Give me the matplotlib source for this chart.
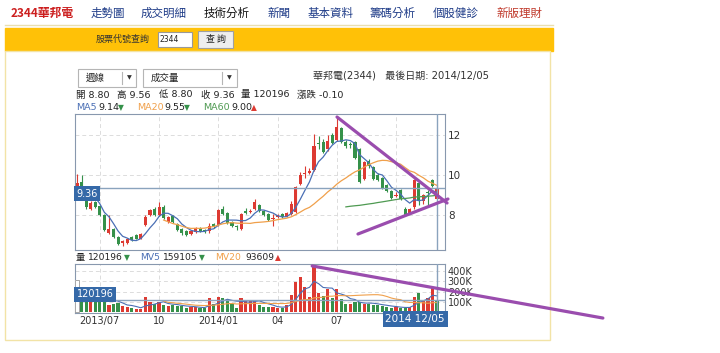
import numpy as np
import pandas as pd
import matplotlib
matplotlib.use("Agg")
import matplotlib.pyplot as plt
import matplotlib.transforms as mtransforms
from matplotlib.patches import Rectangle

plt.rcParams['font.family'] = ['DejaVu Sans', 'Noto Sans CJK TC']
CJK = ['Noto Sans CJK TC', 'DejaVu Sans']

# weekly candles 2013/05/31 .. 2014/12/05
dates = pd.date_range(end="2014-12-05", periods=80, freq="W-FRI")
opens = [9.40, 9.65, 8.68, 8.32, 8.65, 8.45, 8.00, 7.10, 7.30, 6.90,
         6.60, 6.62, 6.90, 7.00, 6.80, 7.50, 8.00, 8.32, 8.00, 8.40,
         7.65, 7.95, 7.55, 7.30, 7.20, 7.05, 7.15, 7.35, 7.25, 7.20,
         7.55, 7.48, 8.30, 8.10, 7.65, 7.45, 7.32, 8.18, 8.15, 8.30,
         8.50, 8.20, 8.05, 7.78, 7.92, 8.05, 7.92, 8.05, 8.15, 9.55,
         10.05, 10.10, 10.25, 11.60, 11.65, 11.30, 12.00, 11.75, 12.35, 11.65,
         11.55, 11.65, 11.30, 9.80, 10.70, 10.40, 10.00, 9.85, 9.50, 9.20,
         8.95, 9.25, 8.30, 8.10, 8.40, 9.60, 8.70, 9.15, 9.75, 8.80]
highs = [10.05, 9.98, 8.75, 8.70, 8.72, 8.50, 8.05, 8.00, 7.35, 6.95,
         6.75, 6.85, 6.95, 7.05, 7.10, 8.00, 8.30, 8.40, 8.65, 8.50,
         7.95, 8.00, 7.60, 7.35, 7.25, 7.25, 7.40, 7.40, 7.30, 7.60,
         7.60, 8.30, 8.45, 8.15, 7.70, 7.50, 8.10, 8.35, 8.30, 8.80,
         8.55, 8.25, 8.10, 8.05, 8.05, 8.10, 8.15, 8.70, 9.45, 10.15,
         10.45, 10.35, 12.05, 11.95, 11.80, 12.00, 12.10, 12.90, 12.40, 11.75,
         11.65, 11.70, 11.35, 10.70, 10.80, 10.45, 10.10, 9.90, 9.55, 9.25,
         9.15, 9.30, 8.40, 8.35, 9.80, 9.65, 9.05, 9.25, 9.80, 9.56]
lows = [9.35, 9.30, 8.30, 8.25, 8.35, 7.95, 7.20, 7.05, 6.85, 6.50,
        6.45, 6.55, 6.70, 6.78, 6.78, 7.45, 7.95, 7.95, 7.95, 7.80,
        7.60, 7.60, 7.20, 7.02, 6.95, 7.00, 7.10, 7.15, 7.10, 7.10,
        7.35, 7.45, 8.00, 7.55, 7.40, 7.25, 7.25, 8.05, 8.10, 8.25,
        8.15, 7.95, 7.70, 7.45, 7.85, 7.85, 7.88, 8.00, 8.10, 9.50,
        9.85, 10.05, 10.20, 11.30, 11.10, 11.20, 11.55, 11.70, 11.60, 11.35,
        11.35, 10.80, 9.60, 9.75, 10.35, 9.75, 9.70, 9.30, 9.15, 8.80,
        8.90, 8.75, 7.95, 8.05, 8.30, 8.50, 8.55, 8.50, 9.40, 8.80]
closes = [9.58, 9.42, 8.38, 8.62, 8.40, 8.00, 7.25, 7.30, 6.90, 6.55,
          6.68, 6.80, 6.75, 6.82, 7.05, 7.92, 8.25, 8.00, 8.42, 7.85,
          7.90, 7.65, 7.25, 7.08, 7.00, 7.20, 7.35, 7.20, 7.15, 7.45,
          7.40, 8.23, 8.05, 7.60, 7.45, 7.38, 8.07, 8.12, 8.22, 8.65,
          8.22, 8.02, 7.75, 7.85, 7.98, 7.92, 8.08, 8.55, 9.40, 10.00,
          10.12, 10.20, 11.45, 11.55, 11.15, 11.70, 11.60, 12.40, 11.65, 11.45,
          11.50, 10.85, 9.65, 10.65, 10.45, 9.80, 9.75, 9.35, 9.20, 8.85,
          9.02, 8.80, 8.00, 8.30, 9.73, 8.75, 9.00, 9.10, 9.46, 9.36]
volumes_k = [313, 150, 160, 140, 150, 145, 155, 70, 80, 90,
             60, 55, 45, 30, 28, 150, 100, 85, 100, 75,
             65, 70, 65, 60, 45, 50, 48, 40, 45, 138,
             80, 145, 140, 130, 85, 40, 135, 120, 110, 120,
             70, 55, 55, 48, 45, 45, 70, 168, 297, 346,
             250, 150, 460, 185, 160, 228, 140, 230, 125, 85,
             80, 100, 100, 85, 80, 75, 70, 60, 55, 45,
             50, 40, 45, 55, 150, 190, 119, 135, 232, 120.196]

# hand drawn trend lines (index, value)
trend_hi_x, trend_hi_y = [57.05, 81.2], [12.9, 8.6]
trend_lo_x, trend_lo_y = [61.65, 81.4], [7.05, 8.8]
trend_vol_x, trend_vol_y = [51.6, 115.4], [450000, -56000]

nav_items = ["走勢圖", "成交明細", "技術分析", "新聞", "基本資料", "籌碼分析", "個股健診", "新版理財"]
nav_x = [91, 141, 204, 267, 308, 370, 433, 496]
nav_colors = ['#1f3c88', '#1f3c88', '#111111', '#1f3c88', '#1f3c88', '#1f3c88', '#1f3c88', '#c0392b']

RED = '#dd3a32'
GREEN = '#35914a'
C_MA5 = '#4a6fb5'
C_MA20 = '#f0a04b'
C_MA60 = '#4f9a52'
FRAME = '#8898ae'
CROSS = '#8aa3bd'
FS = 6.6

o = np.array(opens); h = np.array(highs); l = np.array(lows); c = np.array(closes)
vol = np.array(volumes_k) * 1000
idx = np.arange(len(c))
cs = pd.Series(c)
vs = pd.Series(vol)

fig = plt.figure(figsize=(7.2, 3.53), dpi=100)
W, H = 720, 353

bg = fig.add_axes([0, 0, 1, 1])
bg.set_xlim(0, W); bg.set_ylim(H, 0); bg.axis('off')

# nav bar
bg.text(11, 13, "2344華邦電", color='#cc1f1f', fontsize=8.5, fontweight='bold', va='center', family=CJK)
for t, x, col in zip(nav_items, nav_x, nav_colors):
    bg.text(x, 13, t, color=col, fontsize=8.3, va='center', family=CJK)
bg.plot([5, 553], [25, 25], color='#eadfae', lw=1)
bg.add_patch(Rectangle((5, 28), 548, 23, color='#ffc107'))
bg.text(96, 39.5, "股票代號查詢", fontsize=6.5, va='center', color='#333333', family=CJK)
bg.add_patch(Rectangle((158, 32), 34, 15, fc='white', ec='#999999', lw=0.8))
bg.text(160, 39.5, "2344", fontsize=5.5, va='center', color='#222222')
bg.add_patch(Rectangle((198, 31), 35, 17, fc='#eeeeee', ec='#a0a0a0', lw=0.8))
bg.text(215.5, 39.5, "查 詢", fontsize=6.5, va='center', ha='center', color='#222222', family=CJK)
bg.add_patch(Rectangle((5, 51), 545, 289, fc='white', ec='#f2e3a6', lw=1))

# dropdowns
for x0, x1, sep, label in [(78, 136, 122, "週線"), (143, 237, 222, "成交量")]:
    bg.add_patch(Rectangle((x0, 69), x1 - x0, 18, fc='white', ec='#b5b5b5', lw=0.8))
    bg.plot([sep, sep], [72, 84], color='#b5b5b5', lw=0.8)
    bg.text(x0 + 8, 78, label, fontsize=6.8, va='center', color='#222222', family=CJK)
    bg.text(sep + 7, 78, "▼", fontsize=4.5, va='center', ha='center', color='#333333')

bg.text(313, 75, "華邦電(2344)   最後日期: 2014/12/05", fontsize=7.2, va='center', color='#333333')

# OHLC line
for x, t in [(76, "開 8.80"), (117, "高 9.56"), (159, "低 8.80"), (201, "收 9.36"),
             (241, "量 120196"), (297, "漲跌 -0.10")]:
    bg.text(x, 95, t, fontsize=FS + 0.2, va='center', color='#222222')

# MA legend
for x, t, col in [(76, "MA5", C_MA5), (98, "9.14", '#222222'), (137, "MA20", C_MA20),
                  (164, "9.55", '#222222'), (203, "MA60", C_MA60), (231, "9.00", '#222222')]:
    bg.text(x, 107.5, t, fontsize=FS + 0.2, va='center', color=col)
for x, t, col in [(118, "▼", GREEN), (184, "▼", GREEN), (251, "▲", RED)]:
    bg.text(x, 107.5, t, fontsize=5.5, va='center', color=col)

# volume legend
for x, t, col in [(76, "量", '#222222'), (88, "120196", '#222222'), (140, "MV5", C_MA5),
                  (163, "159105", '#222222'), (215, "MV20", C_MA20), (245, "93609", '#222222')]:
    bg.text(x, 257.5, t, fontsize=FS, va='center', color=col)
for x, t, col in [(124, "▼", GREEN), (199, "▼", GREEN), (275, "▲", RED)]:
    bg.text(x, 257.5, t, fontsize=5.5, va='center', color=col)

# date tick positions: first week of Jan/Apr/Jul/Oct
tick_pos, tick_lab = [], []
for i in range(1, len(dates)):
    if dates[i].month != dates[i - 1].month and dates[i].month in (1, 4, 7, 10):
        tick_pos.append(i)
        if i > len(dates) - 14:
            tick_lab.append("")  # hidden under the last-date box
        elif not tick_lab or dates[i].month == 1:
            tick_lab.append(dates[i].strftime("%Y/%m"))
        else:
            tick_lab.append(dates[i].strftime("%m"))

xlim = (-0.45, 80.75)

# price panel
ax1 = fig.add_axes([75 / W, 1 - 250 / H, 370 / W, 136 / H])
ax1.set_xlim(*xlim); ax1.set_ylim(6.25, 13.05)
up = c >= o
col = np.where(up, RED, GREEN)
ax1.vlines(idx, l, h, colors=col, lw=0.8, zorder=3)
body = np.maximum(np.abs(c - o), 0.03)
ax1.bar(idx, body, bottom=np.minimum(o, c), width=0.68, color=col, lw=0, zorder=4)
ax1.plot(idx, cs.rolling(5).mean(), color=C_MA5, lw=0.9, zorder=5)
ax1.plot(idx, cs.rolling(20).mean(), color=C_MA20, lw=0.9, zorder=5)
ax1.plot(idx, cs.rolling(60).mean(), color=C_MA60, lw=0.9, zorder=5)
ax1.axhline(c[-1], color=CROSS, lw=1, zorder=6)
ax1.axvline(idx[-1], color=CROSS, lw=1, zorder=6)
ax1.set_yticks([8, 10, 12])
ax1.yaxis.tick_right()
ax1.tick_params(axis='y', length=0, pad=2, labelsize=7.5, labelcolor='#333333')
ax1.set_xticks(tick_pos)
ax1.tick_params(axis='x', length=0, labelbottom=False)
ax1.grid(True, ls=(0, (4, 3)), color='#dcdcdc', lw=0.7)
for s in ax1.spines.values():
    s.set_color(FRAME)
blend1 = mtransforms.blended_transform_factory(ax1.transAxes, ax1.transData)
ax1.text(0.004, c[-1] - 0.05, f"{c[-1]:.2f}", transform=blend1, va='top', ha='left',
         color='white', fontsize=7, zorder=8,
         bbox=dict(boxstyle='square,pad=0.25', fc='#3569a8', ec='none'))
ax1.plot(trend_hi_x, trend_hi_y, color='#9a4dae', lw=2.3, clip_on=False, zorder=9,
         solid_capstyle='round')
ax1.plot(trend_lo_x, trend_lo_y, color='#9a4dae', lw=2.3, clip_on=False, zorder=9,
         solid_capstyle='round')

# volume panel
ax2 = fig.add_axes([75 / W, 1 - 313 / H, 370 / W, 49 / H])
ax2.set_xlim(*xlim); ax2.set_ylim(-7000, 469000)
vcol = [RED if k > 0 and c[k] >= c[k - 1] else GREEN for k in idx]
vcol[0] = 'white'
ax2.bar(idx, vol, width=0.7, color=vcol, lw=0, zorder=3)
ax2.bar(idx[:1], vol[:1], width=0.7, color='white', ec='#999999', lw=0.6, zorder=3)
ax2.plot(idx, vs.rolling(5).mean(), color=C_MA5, lw=0.8, zorder=5)
ax2.plot(idx, vs.rolling(20).mean(), color=C_MA20, lw=0.8, zorder=5)
ax2.axhline(vol[-1], color=CROSS, lw=1, zorder=6)
ax2.axvline(idx[-1], color=CROSS, lw=1, zorder=6)
ax2.set_yticks([100000, 200000, 300000, 400000])
ax2.set_yticklabels(["100K", "200K", "300K", "400K"])
ax2.yaxis.tick_right()
ax2.tick_params(axis='y', length=0, pad=2, labelsize=7, labelcolor='#333333')
ax2.set_xticks(tick_pos)
ax2.set_xticklabels(tick_lab)
ax2.tick_params(axis='x', length=0, pad=2, labelsize=7, labelcolor='#333333')
ax2.grid(True, ls=(0, (4, 3)), color='#dcdcdc', lw=0.7)
for s in ax2.spines.values():
    s.set_color(FRAME)
blend2 = mtransforms.blended_transform_factory(ax2.transAxes, ax2.transData)
ax2.text(0.004, vol[-1] + 8000, f"{int(round(vol[-1]))}", transform=blend2, va='bottom', ha='left',
         color='white', fontsize=7, zorder=8,
         bbox=dict(boxstyle='square,pad=0.25', fc='#3569a8', ec='none'))
ax2.plot(trend_vol_x, trend_vol_y, color='#9a4dae', lw=2.3, clip_on=False, zorder=9,
         solid_capstyle='round')

# last date label
ax2.text(1.0, -0.02, dates[-1].strftime("%Y %m/%d"), transform=ax2.transAxes, ha='right', va='top',
         color='white', fontsize=7.5, zorder=10,
         bbox=dict(boxstyle='square,pad=0.25', fc='#3569a8', ec='none'))

fig.savefig("out.png", dpi=100)
